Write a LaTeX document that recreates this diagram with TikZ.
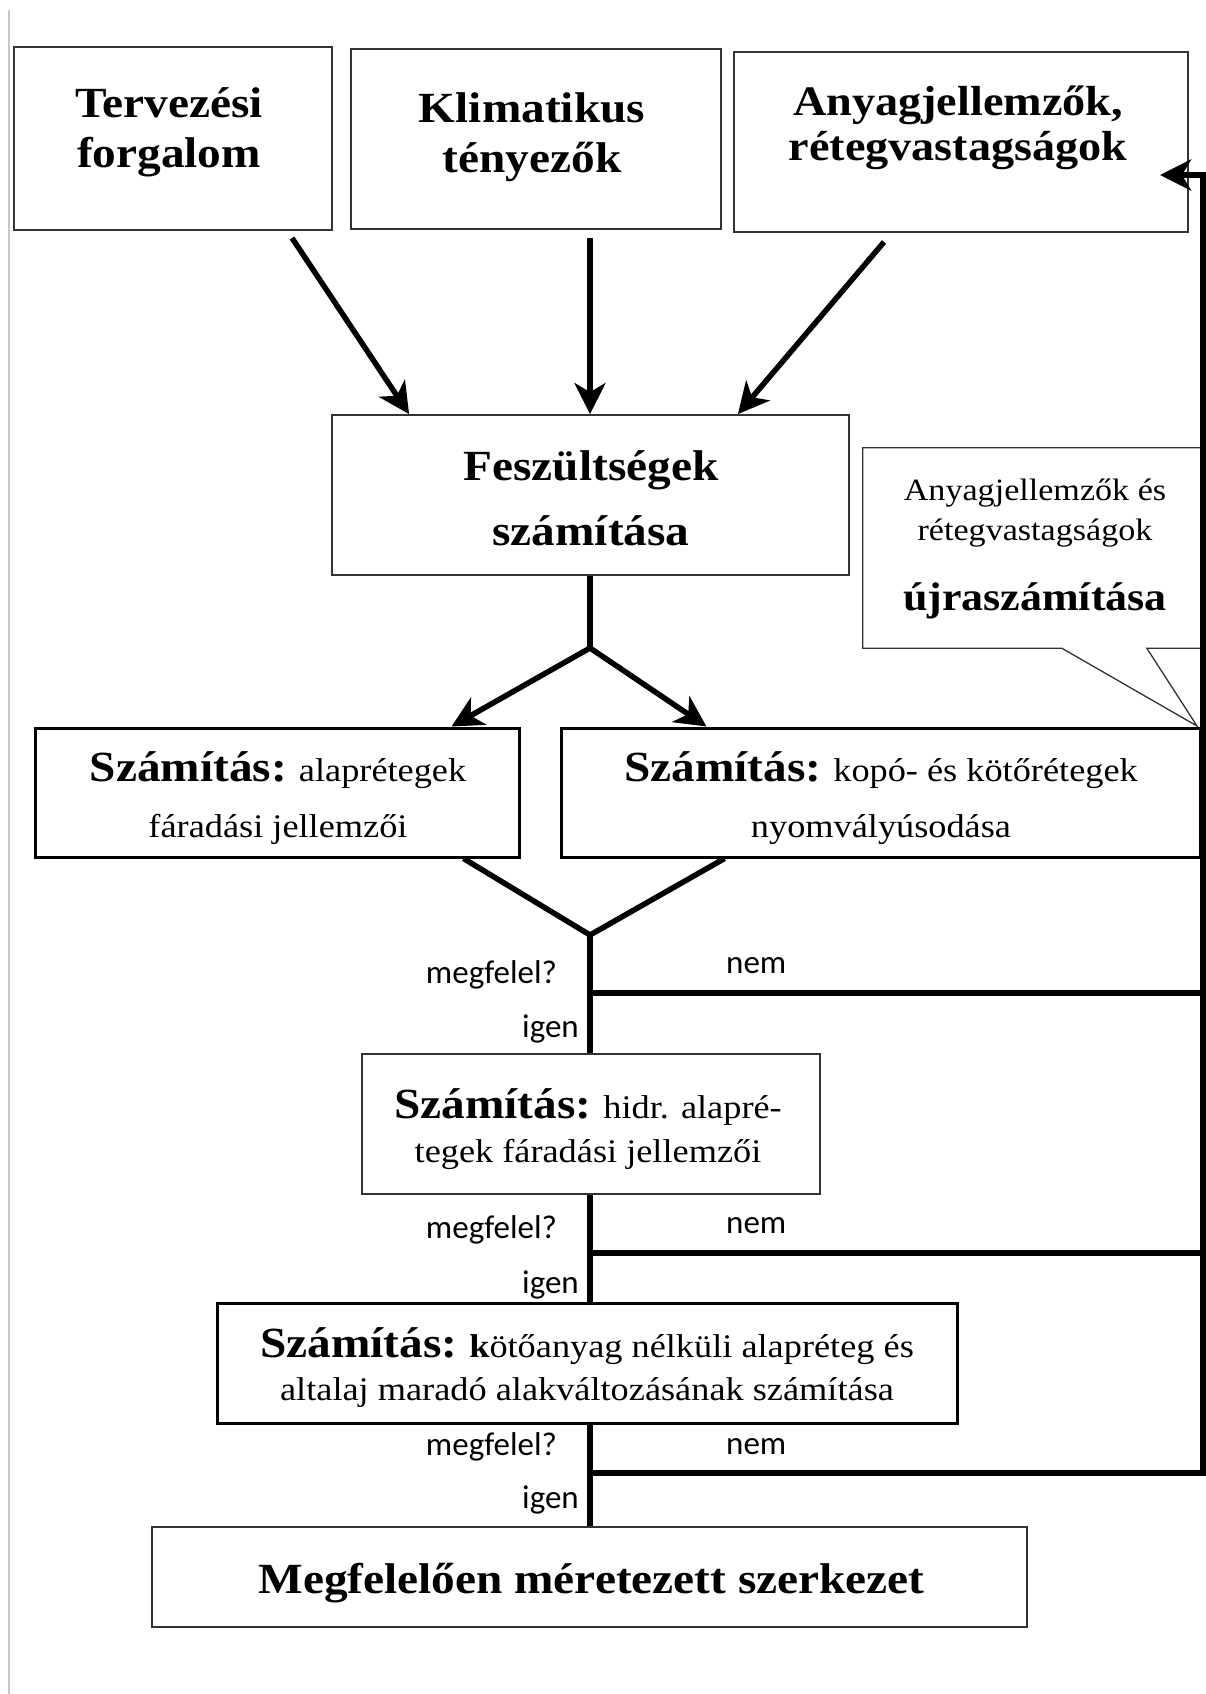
\documentclass[tikz,border=0pt]{standalone}
\usepackage{fontspec}
\setmainfont{Liberation Serif}[FakeStretch=1.1]
\newfontfamily\labfont{Carlito}
\usetikzlibrary{arrows.meta,calc}
\begin{document}
\begin{tikzpicture}[x=1pt,y=-1pt,
  box/.style={draw=black!80, line width=1.8pt, inner sep=0pt},
  boxk/.style={draw=black, line width=3pt, inner sep=0pt},
  txt/.style={inner sep=0pt, align=center, anchor=base},
  bigb/.style={font=\fontsize{43}{50}\selectfont\bfseries},
  conn/.style={line width=5.5pt},
  arr/.style={line width=5.5pt, -{Stealth[length=31pt,width=31pt,inset=9pt]}},
  lab/.style={inner sep=0pt, font=\labfont\fontsize{33}{33}\selectfont},
]
\useasboundingbox (0,0) rectangle (1206,1694);
\fill[white] (0,0) rectangle (1206,1694);
\draw[black!22, line width=2pt] (9,10) -- (9,1694);

% top boxes
\node[box, minimum width=318pt, minimum height=183pt] (t1) at (173,138.5) {};
\node[box, minimum width=370pt, minimum height=180pt] (t2) at (536,139) {};
\node[box, minimum width=454pt, minimum height=180pt] (t3) at (961,142) {};
\node[txt, bigb] (t1t) at (169,167) {Tervezési\\forgalom};
\node[txt, bigb] (t2t) at (532,172) {Klimatikus\\tényezők};
\node[txt, font=\fontsize{42}{45}\selectfont\bfseries] (t3t) at (958,160) {Anyagjellemzők,\\rétegvastagságok};

% stresses
\node[box, minimum width=517pt, minimum height=160pt] (fesz) at (590.5,495) {};
\node[txt, font=\fontsize{43}{65}\selectfont\bfseries] (fezt) at (591,545) {Feszültségek\\számítása};

% callout
\node[inner sep=0pt, minimum width=339pt, minimum height=200pt] (call) at (1032.5,548) {};
\coordinate (tailA) at ($(call.south west)+(199,0)$);
\coordinate (tailB) at ($(call.south west)+(284,0)$);
\coordinate (tailtip) at (1197,726);
\draw[black!80, line width=1.3pt] (call.north west) -- (call.north east) -- (call.south east)
  -- (tailB) -- (tailtip) -- (tailA) -- (call.south west) -- cycle;
\node[txt, font=\fontsize{31}{40}\selectfont] (callt) at (1035,610)
  {Anyagjellemzők és\\rétegvastagságok\\[30pt]{\bfseries\fontsize{40}{40}\selectfont újraszámítása}};

% calculation boxes
\node[boxk, minimum width=484pt, minimum height=129pt] (sl) at (277,792.5) {};
\node[boxk, minimum width=639pt, minimum height=129pt] (sr) at (880.5,792.5) {};
\node[txt, font=\fontsize{33}{56}\selectfont] (slt) at (278,837)
  {{\bfseries\fontsize{43}{56}\selectfont Számítás:} alaprétegek\\fáradási jellemzői};
\node[txt, font=\fontsize{33}{56}\selectfont] (srt) at (881,837)
  {{\bfseries\fontsize{43}{56}\selectfont Számítás:} kopó- és kötőrétegek\\nyomvályúsodása};

\node[box, minimum width=458pt, minimum height=140pt] (hidr) at (591,1124) {};
\node[txt, font=\fontsize{33}{44}\selectfont] (hidrt) at (588,1162)
  {{\bfseries\fontsize{43}{44}\selectfont Számítás:} hidr. alapré-\\tegek fáradási jellemzői};

\node[boxk, minimum width=740pt, minimum height=120pt] (kot) at (587,1363) {};
\node[txt, font=\fontsize{33}{43}\selectfont] (kott) at (587,1400)
  {{\bfseries\fontsize{43}{43}\selectfont Számítás:} \textbf{k}ötőanyag nélküli alapréteg és\\altalaj maradó alakváltozásának számítása};

\node[box, minimum width=875pt, minimum height=100pt] (fin) at (589.5,1577) {};
\node[txt, bigb] (fint) at (591.5,1593) {Megfelelően méretezett szerkezet};

% top arrows
\coordinate (a1) at (292,238);
\coordinate (a2) at (590,238);
\coordinate (a3) at (884,242);
\draw[arr] (a1) -- ($(fesz.north west)+(78,0)$);
\draw[arr] (a2) -- (a2 |- fesz.north);
\draw[arr] (a3) -- ($(fesz.north east)+(-112,0)$);

% split
\coordinate (split) at (590,648);
\draw[conn] (split |- fesz.south) -- (split);
\draw[arr] (split) -- ($(sl.north west)+(418,0)$);
\draw[arr] (split) -- ($(sr.north west)+(147,0)$);

% merge
\coordinate (merge) at (590,935);
\draw[conn] ($(sl.south west)+(430,0)$) -- (merge) -- ($(sr.south west)+(165,0)$);
\draw[conn] (merge) -- (merge |- hidr.north);
\draw[conn] (merge |- hidr.south) -- (merge |- kot.north);
\draw[conn] (merge |- kot.south) -- (merge |- fin.north);

% feedback
\coordinate (j1) at (590,993);
\coordinate (j2) at (590,1253);
\coordinate (j3) at (590,1473);
\coordinate (r1) at (1203,993);
\coordinate (r2) at (1203,1253);
\coordinate (r3) at (1203,1473);
\coordinate (rtop) at (1203,175);
\coordinate (t3in) at (1160,175);
\draw[conn] (j1) -- (r1);
\draw[conn] (j2) -- (r2);
\draw[arr] (j3) -- (r3) -- (rtop) -- (t3in);

% labels
\node[lab, anchor=base east] (m1) at (557,983) {megfelel?};
\node[lab, anchor=base west] (n1) at (726,973) {nem};
\node[lab, anchor=base east] (i1) at (579,1037) {igen};
\node[lab, anchor=base east] (m2) at (557,1238) {megfelel?};
\node[lab, anchor=base west] (n2) at (726,1233) {nem};
\node[lab, anchor=base east] (i2) at (579,1293) {igen};
\node[lab, anchor=base east] (m3) at (557,1455) {megfelel?};
\node[lab, anchor=base west] (n3) at (726,1454) {nem};
\node[lab, anchor=base east] (i3) at (579,1508) {igen};
\end{tikzpicture}
\end{document}
